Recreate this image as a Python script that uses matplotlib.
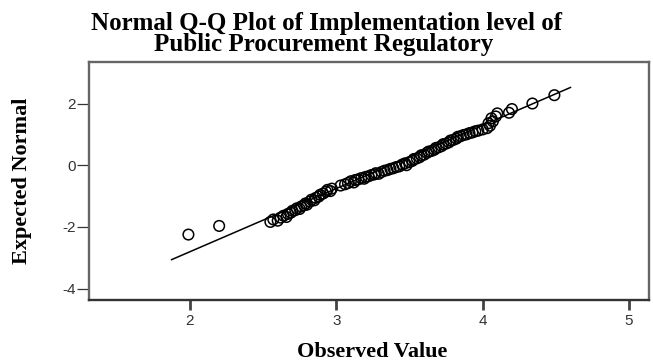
#!/usr/bin/env python3
"""Normal Q-Q plot of the implementation level of public procurement regulatory."""
import matplotlib
matplotlib.use("Agg")
import matplotlib.pyplot as plt

OUT = "out.png"

# observed scores and their expected normal values
OBSERVED = [1.99, 2.20,
            2.55, 2.57, 2.60, 2.62, 2.64, 2.66, 2.67, 2.69, 2.70, 2.72,
            2.73, 2.75, 2.76, 2.78, 2.79, 2.80, 2.82, 2.83, 2.85, 2.86,
            2.88, 2.89, 2.91, 2.93, 2.94, 2.96, 2.97,
            3.03, 3.06, 3.08, 3.10, 3.12, 3.13, 3.15, 3.17, 3.19, 3.20,
            3.22, 3.24, 3.26, 3.27, 3.29, 3.31, 3.33, 3.35, 3.37, 3.39,
            3.41, 3.43, 3.45, 3.47, 3.48, 3.50, 3.52, 3.53, 3.55, 3.57,
            3.58, 3.60, 3.62, 3.63, 3.65, 3.67, 3.68, 3.70, 3.72, 3.73,
            3.75, 3.77, 3.78, 3.80, 3.82, 3.83, 3.85, 3.87, 3.89, 3.91,
            3.93, 3.95, 3.97, 4.00, 4.03,
            4.05, 4.04, 4.07, 4.06, 4.09, 4.10, 4.18, 4.20, 4.34, 4.49]
EXPECTED = [-2.25, -1.97,
            -1.84, -1.76, -1.80, -1.70, -1.64, -1.68, -1.58, -1.54, -1.48, -1.46,
            -1.40, -1.42, -1.34, -1.30, -1.24, -1.28, -1.18, -1.12, -1.14, -1.06,
            -1.02, -0.96, -0.92, -0.86, -0.80, -0.84, -0.76,
            -0.66, -0.62, -0.58, -0.52, -0.56, -0.48, -0.46, -0.42, -0.44, -0.38,
            -0.36, -0.32, -0.30, -0.26, -0.28, -0.22, -0.18, -0.16, -0.12, -0.10,
            -0.06, -0.04, 0.02, 0.06, 0.00, 0.10, 0.14, 0.20, 0.22, 0.26,
            0.32, 0.34, 0.40, 0.44, 0.46, 0.50, 0.56, 0.58, 0.62, 0.68,
            0.70, 0.74, 0.80, 0.82, 0.86, 0.92, 0.94, 0.98, 1.00, 1.04,
            1.06, 1.10, 1.12, 1.16, 1.20,
            1.28, 1.36, 1.42, 1.52, 1.58, 1.68, 1.70, 1.82, 2.00, 2.27]

# reference line  z = (x - mean) / sd, drawn over this x span
MEAN, SD = 3.37, 0.488
LINE_X = [1.875, 4.60]

X_TICKS = [2, 3, 4, 5]
Y_TICKS = [-4, -2, 0, 2]

SERIF = ["Liberation Serif", "DejaVu Serif"]
SANS = ["Liberation Sans", "DejaVu Sans"]
FRAME = "#666666"

plt.rcParams["axes.unicode_minus"] = False

fig = plt.figure(figsize=(6.53, 3.64), dpi=100)
ax = fig.add_axes([0.137, 0.176, 0.857, 0.654])

ax.scatter(OBSERVED, EXPECTED, s=58, facecolors="none", edgecolors="black",
           linewidths=1.1, zorder=3)
ax.plot(LINE_X, [(x - MEAN) / SD for x in LINE_X], color="black", lw=1.1, zorder=2)

ax.set_xlim(1.314, 5.137)
ax.set_ylim(-4.37, 3.35)
ax.set_xticks(X_TICKS)
ax.set_yticks(Y_TICKS)
for s in ax.spines.values():
    s.set_color(FRAME); s.set_linewidth(1.7)
ax.spines["bottom"].set_color("#333333")
ax.tick_params(axis="x", direction="out", length=7, width=2, color="#444444",
               pad=3, labelsize=11, labelcolor="#333333")
ax.tick_params(axis="y", direction="out", length=9, width=0.9, color="#333333",
               pad=1, labelsize=11, labelcolor="#333333")
for lab in ax.get_xticklabels() + ax.get_yticklabels():
    lab.set_family(SANS)

fig.text(0.5, 1 - 30 / 364, "Normal Q-Q Plot of Implementation level of",
         ha="center", va="baseline", family=SERIF, weight="bold", fontsize=18)
fig.text(0.495, 1 - 51 / 364, "Public Procurement Regulatory",
         ha="center", va="baseline", family=SERIF, weight="bold", fontsize=18)
fig.text(0.57, 1 - 357 / 364, "Observed Value",
         ha="center", va="baseline", family=SERIF, weight="bold", fontsize=16)
fig.text(0.034, 1 - 181 / 364, "Expected Normal", rotation=90,
         ha="center", va="center", family=SERIF, weight="bold", fontsize=16)

fig.savefig(OUT, dpi=100)
